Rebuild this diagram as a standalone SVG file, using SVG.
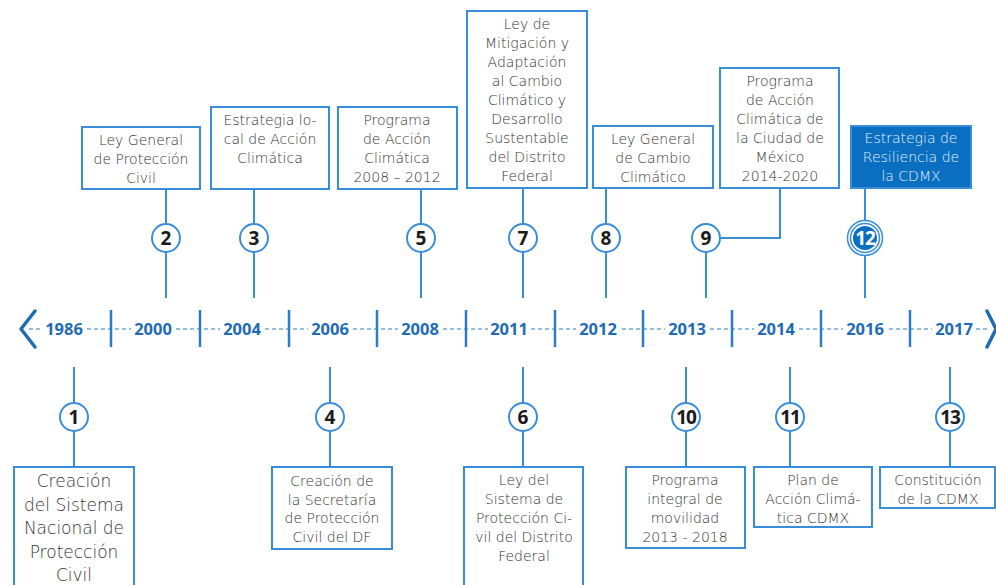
<svg xmlns="http://www.w3.org/2000/svg" width="996" height="585" viewBox="0 0 996 585">
<style>
.bx{fill:#fff;stroke:#3a8dd8;stroke-width:2}
.bxf{fill:#0b6fc1;stroke:#3a8dd8;stroke-width:2}
.t{font-family:"DejaVu Sans","Open Sans",sans-serif;font-weight:300;font-size:14px;fill:#333;text-anchor:middle}
.tb{font-size:17px}
.tw{fill:#e4f0fa}
.yr{font-family:"Open Sans","Liberation Sans",sans-serif;font-weight:700;font-size:16.5px;fill:#1f6cb4;text-anchor:middle}
.cc{fill:#fff;stroke:#3a8dd8;stroke-width:2}
.num{font-family:"Open Sans","Liberation Sans",sans-serif;font-weight:700;font-size:19px;fill:#1a1a1a;text-anchor:middle}
.ln{stroke:#3a8dd8;stroke-width:2;fill:none}
.tk{stroke:#2a7cc4;stroke-width:2.5}
.dash{stroke:#2a7cc4;stroke-width:1.2;stroke-dasharray:4 3;fill:none}
.chev{stroke:#1f6cb4;stroke-width:3.5;fill:none;stroke-linecap:round;stroke-linejoin:round}
</style>

<g id="timeline">
<polyline class="chev" points="35,311 21,329 35,347"/>
<polyline class="chev" points="987,311 996,329 987,347"/>
<path class="dash" d="M29,329H43 M87,329H131 M176,329H220 M265,329H308 M353,329H398 M443,329H488 M531,329H576 M622,329H665 M710,329H754 M799,329H843 M889,329H932 M976,329H990"/>
<g class="tk">
<line x1="111" y1="310" x2="111" y2="347"/>
<line x1="200" y1="310" x2="200" y2="347"/>
<line x1="289" y1="310" x2="289" y2="347"/>
<line x1="377" y1="310" x2="377" y2="347"/>
<line x1="466" y1="310" x2="466" y2="347"/>
<line x1="555" y1="310" x2="555" y2="347"/>
<line x1="643" y1="310" x2="643" y2="347"/>
<line x1="732" y1="310" x2="732" y2="347"/>
<line x1="821" y1="310" x2="821" y2="347"/>
<line x1="910" y1="310" x2="910" y2="347"/>
</g>
<text class="yr" x="64" y="335">1986</text>
<text class="yr" x="153" y="335">2000</text>
<text class="yr" x="242" y="335">2004</text>
<text class="yr" x="330" y="335">2006</text>
<text class="yr" x="420" y="335">2008</text>
<text class="yr" x="509" y="335">2011</text>
<text class="yr" x="598" y="335">2012</text>
<text class="yr" x="687" y="335">2013</text>
<text class="yr" x="776" y="335">2014</text>
<text class="yr" x="865" y="335">2016</text>
<text class="yr" x="954" y="335">2017</text>
</g>

<g id="connectors">
<path class="ln" d="M166,189V298 M254,189V298 M421,189V298 M523,188V298 M606,188V298 M706,238V298 M780,188V238H706 M865,188V298"/>
<path class="ln" d="M74,367V467 M330,367V467 M523,367V467 M686,367V467 M790,367V467 M950,367V467"/>
</g>

<g id="node1">
<rect class="bx" x="14" y="467" width="120" height="130"/>
<text class="t tb" x="74" y="487">Creación</text>
<text class="t tb" x="74" y="511">del Sistema</text>
<text class="t tb" x="74" y="534">Nacional de</text>
<text class="t tb" x="74" y="558">Protección</text>
<text class="t tb" x="74" y="581">Civil</text>
<circle class="cc" cx="74" cy="417" r="14"/>
<text class="num" x="74" y="424">1</text>
</g>

<g id="node2">
<rect class="bx" x="82" y="127" width="118" height="62"/>
<text class="t" x="141" y="145">Ley General</text>
<text class="t" x="141" y="164">de Protección</text>
<text class="t" x="141" y="183">Civil</text>
<circle class="cc" cx="166" cy="238" r="14"/>
<text class="num" x="166" y="245">2</text>
</g>

<g id="node3">
<rect class="bx" x="211" y="107" width="118" height="82"/>
<text class="t" x="270" y="125">Estrategia lo-</text>
<text class="t" x="270" y="144">cal de Acción</text>
<text class="t" x="270" y="163">Climática</text>
<circle class="cc" cx="254" cy="238" r="14"/>
<text class="num" x="254" y="245">3</text>
</g>

<g id="node4">
<rect class="bx" x="272" y="467" width="120" height="82"/>
<text class="t" x="332" y="486">Creación de</text>
<text class="t" x="332" y="504.5">la Secretaría</text>
<text class="t" x="332" y="523">de Protección</text>
<text class="t" x="332" y="542">Civil del DF</text>
<circle class="cc" cx="330" cy="417" r="14"/>
<text class="num" x="330" y="424">4</text>
</g>

<g id="node5">
<rect class="bx" x="338" y="107" width="119" height="82"/>
<text class="t" x="397" y="125">Programa</text>
<text class="t" x="397" y="144">de Acción</text>
<text class="t" x="397" y="163">Climática</text>
<text class="t" x="397" y="182">2008 – 2012</text>
<circle class="cc" cx="421" cy="238" r="14"/>
<text class="num" x="421" y="245">5</text>
</g>

<g id="node6">
<rect class="bx" x="464" y="467" width="119" height="130"/>
<text class="t" x="524" y="485">Ley del</text>
<text class="t" x="524" y="504">Sistema de</text>
<text class="t" x="524" y="523">Protección Ci-</text>
<text class="t" x="524" y="542">vil del Distrito</text>
<text class="t" x="524" y="561">Federal</text>
<circle class="cc" cx="523" cy="417" r="14"/>
<text class="num" x="523" y="424">6</text>
</g>

<g id="node7">
<rect class="bx" x="467" y="11" width="120" height="177"/>
<text class="t" x="527" y="29">Ley de</text>
<text class="t" x="527" y="48">Mitigación y</text>
<text class="t" x="527" y="67">Adaptación</text>
<text class="t" x="527" y="86">al Cambio</text>
<text class="t" x="527" y="105">Climático y</text>
<text class="t" x="527" y="124">Desarrollo</text>
<text class="t" x="527" y="143">Sustentable</text>
<text class="t" x="527" y="162">del Distrito</text>
<text class="t" x="527" y="181">Federal</text>
<circle class="cc" cx="523" cy="238" r="14"/>
<text class="num" x="523" y="245">7</text>
</g>

<g id="node8">
<rect class="bx" x="593" y="126" width="120" height="62"/>
<text class="t" x="653" y="144">Ley General</text>
<text class="t" x="653" y="163">de Cambio</text>
<text class="t" x="653" y="182">Climático</text>
<circle class="cc" cx="606" cy="238" r="14"/>
<text class="num" x="606" y="245">8</text>
</g>

<g id="node9">
<rect class="bx" x="720" y="68" width="119" height="120"/>
<text class="t" x="780" y="86">Programa</text>
<text class="t" x="780" y="105">de Acción</text>
<text class="t" x="780" y="124">Climática de</text>
<text class="t" x="780" y="143">la Ciudad de</text>
<text class="t" x="780" y="162">México</text>
<text class="t" x="780" y="181">2014-2020</text>
<circle class="cc" cx="706" cy="238" r="14"/>
<text class="num" x="706" y="245">9</text>
</g>

<g id="node10">
<rect class="bx" x="626" y="467" width="119" height="81"/>
<text class="t" x="685" y="485">Programa</text>
<text class="t" x="685" y="504">integral de</text>
<text class="t" x="685" y="523">movilidad</text>
<text class="t" x="685" y="542">2013 - 2018</text>
<circle class="cc" cx="686" cy="417" r="14"/>
<text class="num" x="686" y="424" letter-spacing="-1">10</text>
</g>

<g id="node11">
<rect class="bx" x="754" y="467" width="118" height="60"/>
<text class="t" x="813" y="485">Plan de</text>
<text class="t" x="813" y="504">Acción Climá-</text>
<text class="t" x="813" y="523">tica CDMX</text>
<circle class="cc" cx="790" cy="417" r="14"/>
<text class="num" x="790" y="424" letter-spacing="-1">11</text>
</g>

<g id="node12">
<rect class="bxf" x="851" y="126" width="120" height="62"/>
<text class="t tw" x="911" y="143">Estrategia de</text>
<text class="t tw" x="911" y="162">Resiliencia de</text>
<text class="t tw" x="911" y="181">la CDMX</text>
<circle cx="865" cy="238" r="17.5" fill="#fff" stroke="#3a8dd8" stroke-width="1.5"/>
<circle cx="865" cy="238" r="14.5" fill="#fff" stroke="#3a8dd8" stroke-width="1.5"/>
<circle cx="865" cy="238" r="12" fill="#0b6fc1"/>
<text class="num" x="865" y="245" style="fill:#fff" letter-spacing="-1">12</text>
</g>

<g id="node13">
<rect class="bx" x="880" y="467" width="115" height="41"/>
<text class="t" x="938" y="485">Constitución</text>
<text class="t" x="938" y="504">de la CDMX</text>
<circle class="cc" cx="950" cy="417" r="14"/>
<text class="num" x="950" y="424" letter-spacing="-1">13</text>
</g>
</svg>
